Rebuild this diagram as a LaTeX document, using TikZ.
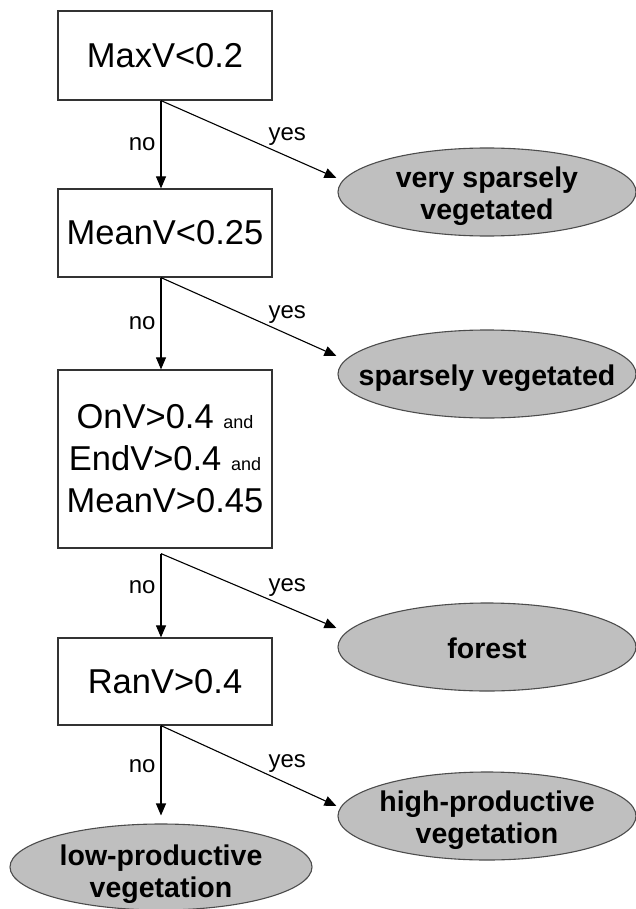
\documentclass[tikz,border=0pt]{standalone}
\usepackage{fontspec}
\setmainfont{Liberation Sans}
\usetikzlibrary{shapes.geometric,arrows.meta}

% class label of zero size, so the ellipse keeps its own dimensions;
% the optional argument lowers the text below the ellipse centre
\newcommand\leaftext[2][-11pt]{\raisebox{#1}[0pt][0pt]{\makebox[0pt]{\begin{tabular}{@{}c@{}}#2\end{tabular}}}}

\tikzset{
  testbox/.style={draw=black!80, line width=1.2pt, fill=white, rectangle,
    minimum width=214pt, inner sep=0pt, align=center,
    font=\fontsize{34.5}{42}\selectfont},
  leaf/.style={draw=black!70, line width=1.1pt, fill=black!25, ellipse,
    minimum width=298pt, minimum height=88pt, inner sep=0pt,
    font=\fontsize{28.5}{32.5}\selectfont\bfseries},
  link/.style={draw=black, line width=1.1pt,
    -{Triangle[length=12pt,width=10pt]}},
  lab/.style={font=\fontsize{24}{26}\selectfont, inner sep=0pt}
}

\begin{document}
\begin{tikzpicture}[x=1pt,y=-1pt]
  \useasboundingbox (0,0) rectangle (635,909);

  % decision tests
  \node[testbox, minimum height=89pt] (b1) at (165,55.5) {MaxV<0.2};
  \node[testbox, minimum height=88pt] (b2) at (165,233) {MeanV<0.25};
  \node[testbox, minimum height=178pt] (b3) at (165,459)
    {OnV>0.4 {\fontsize{18}{20}\selectfont and}\\
     EndV>0.4 {\fontsize{18}{20}\selectfont and}\\
     MeanV>0.45};
  \node[testbox, minimum height=87pt] (b4) at (165,681.5) {RanV>0.4};

  % resulting classes
  \node[leaf] (e1) at (487,192) {\leaftext{very sparsely\\vegetated}};
  \node[leaf] (e2) at (487,374) {\leaftext{sparsely vegetated}};
  \node[leaf] (e3) at (487,647) {\leaftext{forest}};
  \node[leaf] (e4) at (487,816) {\leaftext{high-productive\\vegetation}};
  \node[leaf, minimum width=302pt, minimum height=86pt] (e5) at (161,867)
    {\leaftext[-14pt]{low-productive\\vegetation}};

  % branch origins, slightly left of each box centre
  \coordinate (s1) at ([xshift=-4pt]b1.south);
  \coordinate (s2) at ([xshift=-4pt]b2.south);
  \coordinate (s3) at ([xshift=-4pt,yshift=-5pt]b3.south);
  \coordinate (s4) at ([xshift=-4pt]b4.south);

  % arrow targets
  \coordinate (t1) at ([xshift=-1pt,yshift=14pt]e1.west);
  \coordinate (t2) at ([xshift=-1pt,yshift=18pt]e2.west);
  \coordinate (t3) at ([xshift=-1pt,yshift=19pt]e3.west);
  \coordinate (t4) at ([xshift=-1pt,yshift=10pt]e4.west);
  \coordinate (t5) at ([yshift=8pt]e5.north);

  % "no" branches
  \draw[link] (s1) -- (s1 |- b2.north) node[lab, midway, left=5pt] {no};
  \draw[link] (s2) -- (s2 |- b3.north) node[lab, midway, left=5pt] {no};
  \draw[link] (s3) -- (s3 |- b4.north) node[lab, pos=0.4, left=5pt] {no};
  \draw[link] (s4) -- (t5) node[lab, pos=0.45, left=5pt] {no};

  % "yes" branches
  \draw[link] (s1) -- (t1) node[lab, pos=0.72, above=10pt] {yes};
  \draw[link] (s2) -- (t2) node[lab, pos=0.72, above=10pt] {yes};
  \draw[link] (s3) -- (t3) node[lab, pos=0.72, above=10pt] {yes};
  \draw[link] (s4) -- (t4) node[lab, pos=0.72, above=10pt] {yes};
\end{tikzpicture}
\end{document}
